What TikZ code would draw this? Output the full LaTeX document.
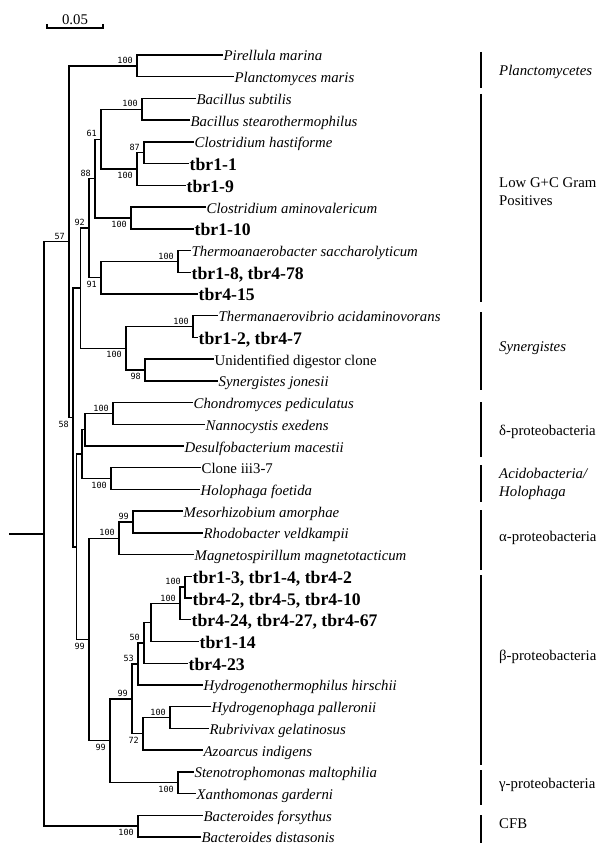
\documentclass[tikz,border=0pt]{standalone}
\usepackage{fontspec}
\setmainfont{Liberation Serif}
\newfontfamily\bootfont{DejaVu Sans Mono}
\usetikzlibrary{positioning}

\begin{document}
\begin{tikzpicture}[
  x=1pt, y=-1pt,
  font=\fontsize{14.8}{18}\selectfont,
  branch/.style={line width=1.4pt, line cap=rect},
  taxon/.style={anchor=west, inner xsep=1.5pt, inner ysep=0pt,
    text height=12pt, text depth=0pt},
  sp/.style={taxon, font=\fontsize{14.8}{18}\selectfont\itshape},
  clone/.style={taxon, font=\fontsize{14.8}{18}\selectfont},
  iso/.style={taxon, text height=14pt,
    font=\fontsize{17.7}{20}\selectfont\bfseries},
  bs/.style={inner sep=0pt, font=\fontsize{8.5}{9}\selectfont\bootfont},
  bsup/.style={bs, anchor=south east, xshift=-4pt, yshift=2pt},
  bsdn/.style={bs, anchor=north east, xshift=-4pt, yshift=-3pt},
  grp/.style={anchor=base west, inner sep=0pt, align=left},
  bar/.style={line width=1.4pt}
]
\useasboundingbox (0,0) rectangle (613,856);

% Scale bar
\coordinate (sbL) at (47,28);
\coordinate (sbR) at (103,28);
\draw[bar] (sbL) ++(0,-4) -- (sbL) -- (sbR) -- ++(0,-4);
\node[anchor=base, inner sep=0pt] (sblab) at (75,25) {0.05};

% Leaves
\node[sp] (pmar) at (222,55) {Pirellula marina};
\node[sp] (pmas) at (233,76.7) {Planctomyces maris};
\node[sp] (bsub) at (195,98.4) {Bacillus subtilis};
\node[sp] (bste) at (189,120.2) {Bacillus stearothermophilus};
\node[sp] (chas) at (193,141.9) {Clostridium hastiforme};
\node[iso] (t11) at (188,163.6) {tbr1-1};
\node[iso] (t19) at (185,185.3) {tbr1-9};
\node[sp] (cami) at (205,207.0) {Clostridium aminovalericum};
\node[iso] (t110) at (193,228.8) {tbr1-10};
\node[sp] (tsac) at (190,250.5) {Thermoanaerobacter saccharolyticum};
\node[iso] (t18) at (190,272.2) {tbr1-8, tbr4-78};
\node[iso] (t415) at (197,293.9) {tbr4-15};
\node[sp] (tacd) at (217,315.6) {Thermanaerovibrio acidaminovorans};
\node[iso] (t12) at (197,337.4) {tbr1-2, tbr4-7};
\node[clone] (udig) at (213,359.1) {Unidentified digestor clone};
\node[sp] (sjon) at (217,380.8) {Synergistes jonesii};
\node[sp] (cped) at (192,402.5) {Chondromyces pediculatus};
\node[sp] (nexe) at (204,424.2) {Nannocystis exedens};
\node[sp] (dmac) at (183,446.0) {Desulfobacterium macestii};
\node[clone] (ciii) at (200,467.7) {Clone iii3-7};
\node[sp] (hfoe) at (199,489.4) {Holophaga foetida};
\node[sp] (mamo) at (182,511.1) {Mesorhizobium amorphae};
\node[sp] (rvel) at (202,532.8) {Rhodobacter veldkampii};
\node[sp] (mmag) at (193,554.6) {Magnetospirillum magnetotacticum};
\node[iso] (t13) at (191,576.3) {tbr1-3, tbr1-4, tbr4-2};
\node[iso] (t42) at (191,598.0) {tbr4-2, tbr4-5, tbr4-10};
\node[iso] (t424) at (190,619.7) {tbr4-24, tbr4-27, tbr4-67};
\node[iso] (t114) at (198,641.4) {tbr1-14};
\node[iso] (t423) at (187,663.2) {tbr4-23};
\node[sp] (hhir) at (202,684.9) {Hydrogenothermophilus hirschii};
\node[sp] (hpal) at (210,706.6) {Hydrogenophaga palleronii};
\node[sp] (rgel) at (208,728.3) {Rubrivivax gelatinosus};
\node[sp] (aind) at (202,750.0) {Azoarcus indigens};
\node[sp] (smal) at (193,771.8) {Stenotrophomonas maltophilia};
\node[sp] (xgar) at (195,793.5) {Xanthomonas garderni};
\node[sp] (bfor) at (202,815.2) {Bacteroides forsythus};
\node[sp] (bdis) at (200,836.9) {Bacteroides distasonis};

% Internal nodes
\coordinate (nPla) at (137,65.85);
\coordinate (nBac) at (142,109.3);
\coordinate (n87) at (144,152.75);
\coordinate (nClo) at (137,169.0);
\coordinate (n61) at (101,139.2);
\coordinate (nCam) at (131,217.9);
\coordinate (n88) at (95,178.55);
\coordinate (nTsa) at (178,261.35);
\coordinate (n91) at (101,277.6);
\coordinate (n92) at (89,228.1);
\coordinate (nTac) at (193,326.5);
\coordinate (n98) at (145,369.95);
\coordinate (nSyn) at (126,348.2);
\coordinate (nFS) at (80.5,288.15);
\coordinate (nCho) at (113,413.35);
\coordinate (nDel) at (85,429.7);
\coordinate (nAci) at (111,478.55);
\coordinate (nDA) at (82,454.1);
\coordinate (nMes) at (133,521.95);
\coordinate (nAlp) at (119,538.3);
\coordinate (nT1) at (185,587.15);
\coordinate (nT2) at (180,603.4);
\coordinate (nT3) at (151,622.4);
\coordinate (n50) at (144,642.8);
\coordinate (n53) at (138,663.85);
\coordinate (nHpa) at (170,717.45);
\coordinate (n72) at (143,733.7);
\coordinate (nBet) at (132,698.8);
\coordinate (nGam) at (178,782.65);
\coordinate (nBG) at (110,740.7);
\coordinate (nABG) at (89,639.5);
\coordinate (nLow) at (76.5,546.8);
\coordinate (n58) at (73,417.5);
\coordinate (n57) at (69,241.7);
\coordinate (nCFB) at (138,826.05);
\coordinate (root) at (44,533.9);
\coordinate (base) at (10,533.9);

% Branches
\draw[branch] (base) -- (root);
\draw[branch] (root) |- (n57);
\draw[branch] (root) |- (nCFB);
\draw[branch] (nCFB) |- (bfor.west);
\draw[branch] (nCFB) |- (bdis.west);

\draw[branch] (n57) |- (nPla);
\draw[branch] (n57) |- (n58);
\draw[branch] (nPla) |- (pmar.west);
\draw[branch] (nPla) |- (pmas.west);

\draw[branch] (n58) |- (nFS);
\draw[branch] (n58) |- (nLow);
\draw[branch] (nFS) |- (n92);
\draw[branch] (nFS) |- (nSyn);
\draw[branch] (n92) |- (n88);
\draw[branch] (n92) |- (n91);
\draw[branch] (n88) |- (n61);
\draw[branch] (n88) |- (nCam);
\draw[branch] (n61) |- (nBac);
\draw[branch] (n61) |- (nClo);
\draw[branch] (nBac) |- (bsub.west);
\draw[branch] (nBac) |- (bste.west);
\draw[branch] (nClo) |- (n87);
\draw[branch] (nClo) |- (t19.west);
\draw[branch] (n87) |- (chas.west);
\draw[branch] (n87) |- (t11.west);
\draw[branch] (nCam) |- (cami.west);
\draw[branch] (nCam) |- (t110.west);
\draw[branch] (n91) |- (nTsa);
\draw[branch] (n91) |- (t415.west);
\draw[branch] (nTsa) |- (tsac.west);
\draw[branch] (nTsa) |- (t18.west);
\draw[branch] (nSyn) |- (nTac);
\draw[branch] (nSyn) |- (n98);
\draw[branch] (nTac) |- (tacd.west);
\draw[branch] (nTac) |- (t12.west);
\draw[branch] (n98) |- (udig.west);
\draw[branch] (n98) |- (sjon.west);

\draw[branch] (nLow) |- (nDA);
\draw[branch] (nLow) |- (nABG);
\draw[branch] (nDA) |- (nDel);
\draw[branch] (nDA) |- (nAci);
\draw[branch] (nDel) |- (nCho);
\draw[branch] (nDel) |- (dmac.west);
\draw[branch] (nCho) |- (cped.west);
\draw[branch] (nCho) |- (nexe.west);
\draw[branch] (nAci) |- (ciii.west);
\draw[branch] (nAci) |- (hfoe.west);

\draw[branch] (nABG) |- (nAlp);
\draw[branch] (nABG) |- (nBG);
\draw[branch] (nAlp) |- (nMes);
\draw[branch] (nAlp) |- (mmag.west);
\draw[branch] (nMes) |- (mamo.west);
\draw[branch] (nMes) |- (rvel.west);
\draw[branch] (nBG) |- (nBet);
\draw[branch] (nBG) |- (nGam);
\draw[branch] (nBet) |- (n53);
\draw[branch] (nBet) |- (n72);
\draw[branch] (n53) |- (n50);
\draw[branch] (n53) |- (hhir.west);
\draw[branch] (n50) |- (nT3);
\draw[branch] (n50) |- (t423.west);
\draw[branch] (nT3) |- (nT2);
\draw[branch] (nT3) |- (t114.west);
\draw[branch] (nT2) |- (nT1);
\draw[branch] (nT2) |- (t424.west);
\draw[branch] (nT1) |- (t13.west);
\draw[branch] (nT1) |- (t42.west);
\draw[branch] (n72) |- (nHpa);
\draw[branch] (n72) |- (aind.west);
\draw[branch] (nHpa) |- (hpal.west);
\draw[branch] (nHpa) |- (rgel.west);
\draw[branch] (nGam) |- (smal.west);
\draw[branch] (nGam) |- (xgar.west);

% Bootstrap values
\node[bsup] (bPla) at (nPla) {100};
\node[bsup] (bBac) at (nBac) {100};
\node[bsup] (b87) at (n87) {87};
\node[bsdn] (bClo) at (nClo) {100};
\node[bsup] (b61) at (n61) {61};
\node[bsdn] (bCam) at (nCam) {100};
\node[bsup] (b88) at (n88) {88};
\node[bsup] (bTsa) at (nTsa) {100};
\node[bsdn] (b91) at (n91) {91};
\node[bsup] (b92) at (n92) {92};
\node[bsup] (bTac) at (nTac) {100};
\node[bsdn] (b98) at (n98) {98};
\node[bsdn] (bSyn) at (nSyn) {100};
\node[bsup] (b57) at (n57) {57};
\node[bsdn] (b58) at (n58) {58};
\node[bsup] (bCho) at (nCho) {100};
\node[bsdn] (bAci) at (nAci) {100};
\node[bsup] (bMes) at (nMes) {99};
\node[bsup] (bAlp) at (nAlp) {100};
\node[bsup] (bT1) at (nT1) {100};
\node[bsup] (bT2) at (nT2) {100};
\node[bsup] (b50) at (n50) {50};
\node[bsup] (b53) at (n53) {53};
\node[bsup] (bHpa) at (nHpa) {100};
\node[bsdn] (b72) at (n72) {72};
\node[bsup] (bBet) at (nBet) {99};
\node[bsdn] (bGam) at (nGam) {100};
\node[bsdn] (bBG) at (nBG) {99};
\node[bsdn] (bABG) at (nABG) {99};
\node[bsdn] (bCFB) at (nCFB) {100};

% Groups
\draw[bar] (481,52) -- (481,88);
\node[grp, font=\fontsize{14.8}{18}\selectfont\itshape] (gPla) at (499,76) {Planctomycetes};
\draw[bar] (481,94) -- (481,302);
\node[grp] (gLow) at (499,205.7) {Low G+C Gram\\Positives};
\draw[bar] (481,312) -- (481,390);
\node[grp, font=\fontsize{14.8}{18}\selectfont\itshape] (gSyn) at (499,351.7) {Synergistes};
\draw[bar] (481,402) -- (481,457);
\node[grp] (gDel) at (499,435) {δ-proteobacteria};
\draw[bar] (481,465) -- (481,502);
\node[grp, font=\fontsize{14.8}{18.7}\selectfont\itshape] (gAci) at (499,496.7) {Acidobacteria/\\Holophaga};
\draw[bar] (481,510) -- (481,570);
\node[grp] (gAlp) at (499,541.7) {α-proteobacteria};
\draw[bar] (481,575) -- (481,765);
\node[grp] (gBet) at (499,660) {β-proteobacteria};
\draw[bar] (481,770) -- (481,805);
\node[grp] (gGam) at (499,788.3) {γ-proteobacteria};
\draw[bar] (481,815) -- (481,843);
\node[grp] (gCFB) at (499,828.3) {CFB};

\end{tikzpicture}
\end{document}
